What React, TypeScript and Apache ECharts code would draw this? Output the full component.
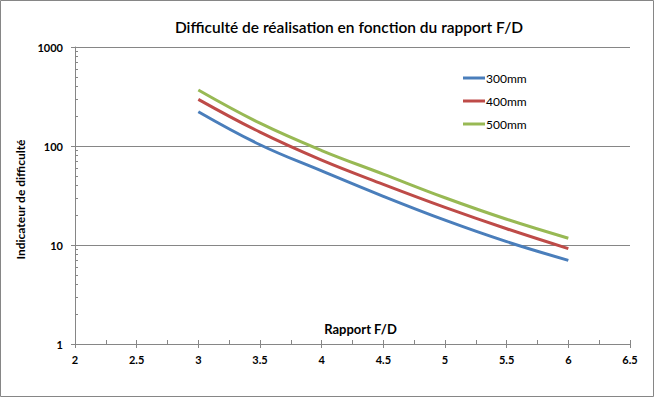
import React, { useEffect, useRef } from "react";
import * as echarts from "echarts";

const title = "Difficulté de réalisation en fonction du rapport F/D";
const xName = "Rapport F/D";
const yName = "Indicateur de difficulté";
const xValues = [3, 3.5, 4, 4.5, 5, 5.5, 6];
const s300 = [222, 103, 56, 31, 17.8, 10.8, 7.0];
const s400 = [296, 138, 72, 41, 24, 14.6, 9.2];
const s500 = [368, 170, 90, 52, 30, 18.2, 11.7];
const seriesNames = ["300mm", "400mm", "500mm"];
const colors = ["#4A7EBB", "#BE4B48", "#98B954"];
const yMinorTicks = [1, 2, 3, 4, 5, 6, 7, 8, 9, 10, 20, 30, 40, 50, 60, 70, 80, 90, 100, 200, 300, 400, 500, 600, 700, 800, 900, 1000];

const FONT = "Lato, 'Open Sans', sans-serif";
const AXIS = "#868686";

export default function App() {
  const ref = useRef<HTMLDivElement>(null);
  useEffect(() => {
    const chart = echarts.init(ref.current!, null, { renderer: "svg" });
    const data = [s300, s400, s500];
    chart.setOption({
      animation: false,
      backgroundColor: "#ffffff",
      title: {
        text: title,
        left: 344,
        textAlign: "center",
        top: 14,
        textStyle: { fontFamily: FONT, fontSize: 15.5, fontWeight: 600, color: "#000" },
      },
      legend: {
        orient: "vertical",
        left: 458,
        top: 66,
        itemWidth: 22,
        itemHeight: 3,
        itemGap: 9,
        icon: "rect",
        textStyle: { fontFamily: FONT, fontSize: 12, color: "#000", lineHeight: 14, padding: [0, 0, 0, -4] },
        data: seriesNames,
      },
      graphic: [
        {
          type: "rect",
          shape: { x: 0.5, y: 0.5, width: 653, height: 396 },
          style: { fill: "none", stroke: AXIS, lineWidth: 1 },
          silent: true,
        },
      ],
      grid: { left: 75, right: 24, top: 47, bottom: 53 },
      xAxis: [
        {
          type: "value",
          position: "bottom",
          min: 2,
          max: 6.5,
          interval: 0.5,
          name: xName,
          nameLocation: "middle",
          nameGap: -22,
          nameTextStyle: { fontFamily: FONT, fontSize: 13, fontWeight: "bold", color: "#000", padding: [0, 0, 0, 16] },
          axisLine: { show: true, lineStyle: { color: AXIS, width: 1 } },
          axisTick: { show: true, inside: false, length: 4, lineStyle: { color: AXIS } },
          axisLabel: { margin: 10, fontFamily: FONT, fontSize: 11, fontWeight: "bold", color: "#000" },
          splitLine: { show: false },
        },
        {
          type: "value",
          position: "bottom",
          min: 2,
          max: 6.5,
          interval: 0.25,
          axisLine: { show: false },
          axisTick: { show: true, inside: true, length: 4, lineStyle: { color: AXIS } },
          axisLabel: { show: false },
          splitLine: { show: false },
        },
      ],
      yAxis: [
        {
          type: "log",
          logBase: 10,
          min: 1,
          max: 1000,
          name: yName,
          nameLocation: "middle",
          nameGap: 45,
          nameTextStyle: { fontFamily: FONT, fontSize: 12, fontWeight: "bold", color: "#000", padding: [0, 8, 0, 0] },
          axisLine: { show: true, lineStyle: { color: AXIS, width: 1 } },
          axisTick: { show: true, inside: false, length: 4, lineStyle: { color: AXIS } },
          axisLabel: {
            margin: 12,
            fontFamily: FONT,
            fontSize: 11,
            fontWeight: "bold",
            color: "#000",
            formatter: (v: number) => String(Math.round(v)),
          },
          splitLine: { show: true, lineStyle: { color: AXIS, width: 1 } },
        },
        {
          type: "log",
          logBase: 10,
          min: 1,
          max: 1000,
          position: "left",
          axisLine: { show: false },
          axisTick: { show: true, inside: true, length: 3, customValues: yMinorTicks, lineStyle: { color: AXIS } },
          axisLabel: { show: false },
          splitLine: { show: false },
        },
      ],
      series: seriesNames.map((name, i) => ({
        name,
        type: "line",
        xAxisIndex: 0,
        yAxisIndex: 0,
        smooth: 0.4,
        showSymbol: false,
        symbol: "none",
        color: colors[i],
        lineStyle: { width: 3, color: colors[i] },
        data: xValues.map((x, j) => [x, data[i][j]]),
      })),
    });
    return () => chart.dispose();
  }, []);
  return (
    <div
      ref={ref}
      style={{ position: "absolute", left: 0, top: 0, width: 654, height: 397 }}
    />
  );
}
